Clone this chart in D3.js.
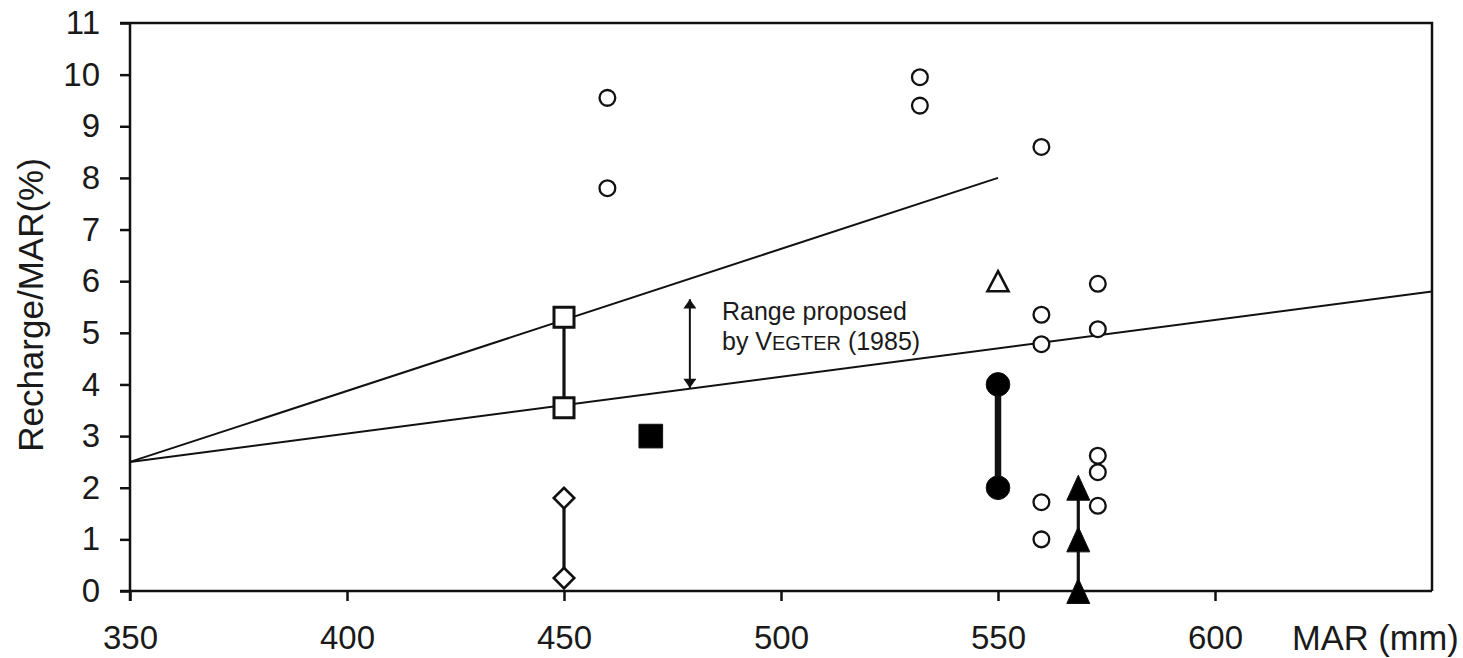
<!DOCTYPE html>
<html lang="en">
<head>
    <meta charset="UTF-8">
    <title>Recharge / MAR</title>
    <style>
        body { margin: 0; background: #fff; }
        svg text { font-family: "Liberation Sans", Arial, sans-serif; fill: #1a1a1a; }
        .axis path, .axis line { stroke: #111; stroke-width: 2.5px; }
        .axis text { font-size: 33px; }
    </style>
</head>
<body>
    <div id="chart"></div>
    <script src="https://cdnjs.cloudflare.com/ajax/libs/d3/7.8.5/d3.min.js"></script>
    <script>
        // axis ticks
        const xTicks = [350, 400, 450, 500, 550, 600];
        const yTicks = [0, 1, 2, 3, 4, 5, 6, 7, 8, 9, 10, 11];

        // trend lines (Vegter range)
        const upperLine = [[350, 2.5], [550, 8.0]];
        const lowerLine = [[350, 2.5], [650, 5.8]];

        // point series [MAR, recharge %]
        const openCircles = [
            [460, 9.55], [460, 7.8],
            [532, 9.95], [532, 9.4],
            [560, 8.6], [560, 5.35], [560, 4.78], [560, 1.72], [560, 1.0],
            [573, 5.95], [573, 5.07], [573, 2.62], [573, 2.3], [573, 1.65]
        ];
        const openSquares = [[450, 5.3], [450, 3.55]];
        const filledSquares = [[470, 3.0]];
        const openDiamonds = [[450, 1.8], [450, 0.25]];
        const openTriangles = [[550, 6.0]];
        const filledCircles = [[550, 4.0], [550, 2.0]];
        const filledTriangles = [[568.5, 2.0], [568.5, 1.0], [568.5, 0.0]];
        const rangeArrow = [[479, 5.65], [479, 3.93]];

        const W = 1463, H = 658;
        const margin = { top: 23, right: 31, bottom: 67, left: 130 };

        const svg = d3.select("#chart").append("svg")
            .attr("width", W)
            .attr("height", H);

        const x = d3.scaleLinear().domain([350, 650]).range([margin.left, W - margin.right]);
        const y = d3.scaleLinear().domain([0, 11]).range([H - margin.bottom, margin.top]);

        // frame top/right
        svg.append("path")
            .attr("d", `M${x(350) - 10},${y(11)}H${x(650)}V${y(0)}`)
            .attr("fill", "none")
            .attr("stroke", "#111")
            .attr("stroke-width", 2.5);

        svg.append("g")
            .attr("class", "axis")
            .attr("transform", `translate(0,${y(0)})`)
            .call(d3.axisBottom(x).tickValues(xTicks).tickSize(10).tickSizeOuter(0).tickPadding(25))
            .call(g => g.select(".domain").attr("d", `M${x(350) - 10},0H${x(650)}`));

        svg.append("g")
            .attr("class", "axis")
            .attr("transform", `translate(${x(350)},0)`)
            .call(d3.axisLeft(y).tickValues(yTicks).tickSize(10).tickSizeOuter(0).tickPadding(20))
            .call(g => g.select(".domain").attr("d", `M0,${y(11)}V${y(0) + 10}`));

        svg.selectAll(".axis text").attr("fill", "#1a1a1a");

        svg.append("text")
            .attr("x", 1292).attr("y", 650)
            .style("font-size", "34.5px")
            .text("MAR (mm)");

        svg.append("text")
            .attr("transform", `translate(43,${305}) rotate(-90)`)
            .attr("text-anchor", "middle")
            .style("font-size", "35px")
            .text("Recharge/MAR(%)");

        const line = d3.line().x(d => x(d[0])).y(d => y(d[1]));

        [upperLine, lowerLine].forEach(l => {
            svg.append("path").attr("d", line(l))
                .attr("fill", "none").attr("stroke", "#111").attr("stroke-width", 2);
        });

        // connectors
        const connect = (data, w) => svg.append("path").attr("d", line(data))
            .attr("fill", "none").attr("stroke", "#111").attr("stroke-width", w);
        connect(openSquares, 3.2);
        connect(openDiamonds, 3.2);
        connect(filledCircles, 6.5);
        connect(filledTriangles, 3.2);

        // arrow
        svg.append("defs").append("marker")
            .attr("id", "ah")
            .attr("viewBox", "0 0 10 14")
            .attr("refX", 10).attr("refY", 7)
            .attr("markerWidth", 16).attr("markerHeight", 13)
            .attr("markerUnits", "userSpaceOnUse")
            .attr("orient", "auto-start-reverse")
            .append("path").attr("d", "M0,0L10,7L0,14Z").attr("fill", "#111");

        svg.append("path").attr("d", line(rangeArrow))
            .attr("stroke", "#111").attr("stroke-width", 2)
            .attr("marker-start", "url(#ah)").attr("marker-end", "url(#ah)");

        const note = svg.append("text")
            .attr("x", 722).attr("y", 320)
            .style("font-size", "25px");
        note.append("tspan").text("Range proposed");
        const l2 = note.append("tspan").attr("x", 722).attr("dy", 30);
        l2.append("tspan").text("by V");
        l2.append("tspan").style("font-size", "20px").text("EGTER");
        l2.append("tspan").text(" (1985)");

        const tri = (w, h) => `M0,${-h / 2}L${w / 2},${h / 2}L${-w / 2},${h / 2}Z`;

        function draw(data, path, fill, sw, rot) {
            svg.append("g").selectAll("path")
                .data(data)
                .join("path")
                .attr("d", path)
                .attr("transform", d => `translate(${x(d[0])},${y(d[1])})` + (rot ? ` rotate(${rot})` : ""))
                .attr("fill", fill)
                .attr("stroke", "#111")
                .attr("stroke-width", sw);
        }

        draw(openCircles, d3.symbol(d3.symbolCircle, 195)(), "#fff", 2.3);
        draw(openSquares, d3.symbol(d3.symbolSquare, 400)(), "#fff", 3);
        draw(filledSquares, d3.symbol(d3.symbolSquare, 560)(), "#000", 1);
        draw(openDiamonds, d3.symbol(d3.symbolSquare, 210)(), "#fff", 2.6, 45);
        draw(openTriangles, tri(21, 20), "#fff", 2.6);
        draw(filledCircles, d3.symbol(d3.symbolCircle, 440)(), "#000", 1);
        draw(filledTriangles, tri(23, 25), "#000", 1);
    </script>
</body>
</html>
